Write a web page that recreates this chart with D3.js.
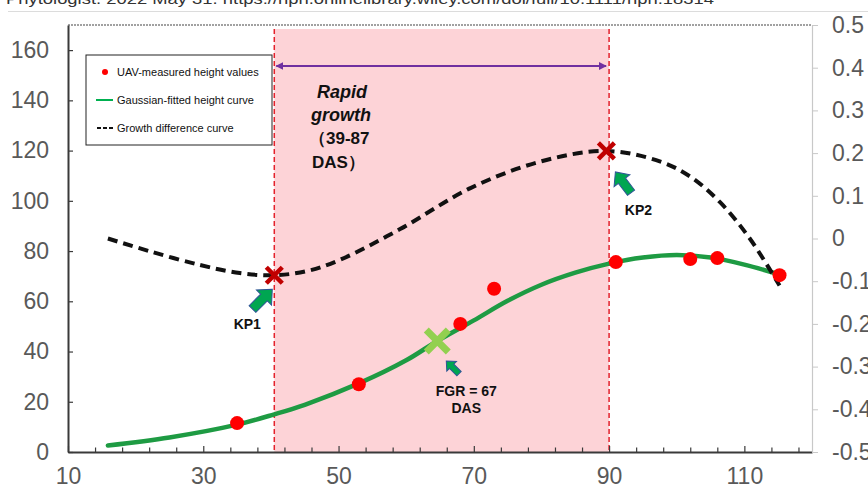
<!DOCTYPE html>
<html>
<head>
<meta charset="utf-8">
<script src="https://cdn.jsdelivr.net/npm/d3@7"></script>
<style>
  body { margin: 0; background: #fff; }
  svg { display: block; font-family: "Liberation Sans", Arial, sans-serif; }
</style>
</head>
<body>
<svg id="chart" width="868" height="497"></svg>
<script>
// measured plant height (cm) by day after sowing
const uavDays = [35, 53, 68, 73, 91, 102, 106, 115.2];
const uavHeight = [11.5, 27, 51, 65, 75.6, 76.8, 77.2, 70.4];

// gaussian fitted curve
const fitDays = [15.9, 25, 35, 40.5, 45, 53, 60, 64.6, 70, 75, 80, 85, 90, 95, 100, 105, 110, 115.2];
const fitHeight = [2.6, 5.8, 10.9, 15, 18.8, 27.3, 36.5, 44.2, 52.4, 60.2, 66.6, 71.4, 75, 77.4, 78.4, 77.4, 74.6, 70.6];

// growth difference curve (right axis)
const diffDays = [15.9, 22.1, 29.5, 35.4, 40.5, 45.4, 50.2, 59.1, 69.5, 79.8, 89.6, 97.6, 102, 106.4, 110.8, 115.2];
const diffValue = [0.0, -0.03, -0.062, -0.081, -0.086, -0.076, -0.05, 0.022, 0.118, 0.18, 0.205, 0.18, 0.145, 0.085, 0.0, -0.11];

const kp1 = {day: 40.5, value: -0.086};
const kp2 = {day: 89.6, value: 0.205};
const fgr = {day: 64.6, height: 44.2};
const bandDays = [40.5, 90];

const xTicks = d3.range(10, 121, 4);
const leftTicks = d3.range(0, 161, 20);
const rightTicks = d3.range(-5, 6).map(i => i / 10);

const svg = d3.select("#chart");

const x = d3.scaleLinear().domain([10, 120]).range([68, 812]);
const yL = d3.scaleLinear().domain([0, 170]).range([452, 25]);
const yR = d3.scaleLinear().domain([-0.5, 0.5]).range([452, 25]);

// cut-off source line at top
svg.append("text")
  .attr("x", 6).attr("y", 4)
  .attr("font-size", "15px").attr("fill", "#333")
  .attr("textLength", 708).attr("lengthAdjust", "spacingAndGlyphs")
  .text("Phytologist. 2022 May 31. https://nph.onlinelibrary.wiley.com/doi/full/10.1111/nph.18314");
svg.append("line")
  .attr("x1", 8).attr("x2", 868).attr("y1", 11.5).attr("y2", 11.5)
  .attr("stroke", "#dcdcdc").attr("stroke-width", 1);

// rapid growth band
svg.append("rect")
  .attr("x", x(bandDays[0])).attr("y", 29)
  .attr("width", x(bandDays[1]) - x(bandDays[0]))
  .attr("height", yL(0) - 29)
  .attr("fill", "#fdd3d7");

svg.selectAll("line.kp")
  .data(bandDays)
  .join("line")
  .attr("class", "kp")
  .attr("x1", d => x(d)).attr("x2", d => x(d))
  .attr("y1", 29).attr("y2", yL(0))
  .attr("stroke", "#e3212b").attr("stroke-width", 1.5)
  .attr("stroke-dasharray", "5,3");

// purple double arrow
const defs = svg.append("defs");
defs.append("marker")
  .attr("id", "ah").attr("viewBox", "0 0 10 10")
  .attr("refX", 9).attr("refY", 5)
  .attr("markerWidth", 4).attr("markerHeight", 4)
  .attr("orient", "auto-start-reverse")
  .append("path").attr("d", "M0,0L10,5L0,10z").attr("fill", "#7030a0");

svg.append("line")
  .attr("x1", x(bandDays[0]) + 2).attr("x2", x(bandDays[1]) - 3)
  .attr("y1", 66).attr("y2", 66)
  .attr("stroke", "#7030a0").attr("stroke-width", 2)
  .attr("marker-start", "url(#ah)").attr("marker-end", "url(#ah)");

// top border
svg.append("line")
  .attr("x1", x(10)).attr("x2", x(120)).attr("y1", yL(170)).attr("y2", yL(170))
  .attr("stroke", "#444").attr("stroke-width", 1.2).attr("stroke-dasharray", "2,1");

// axes
const gx = svg.append("g").attr("transform", `translate(0,${yL(0)})`)
  .call(d3.axisBottom(x).tickValues(xTicks)
    .tickFormat(d => (d - 10) % 20 === 0 ? d : "")
    .tickSize(-5).tickSizeOuter(0).tickPadding(16));
gx.select(".domain").attr("stroke", "#3a3a3a").attr("stroke-width", 2);
gx.selectAll(".tick line").attr("stroke", "#3a3a3a").attr("stroke-width", 1.2)
  .attr("y2", d => (d - 10) % 20 === 0 ? -6 : -4.5);
gx.selectAll("text").attr("font-size", "23px").attr("fill", "#595959")
  .attr("font-family", "Liberation Sans, Arial, sans-serif");

const gl = svg.append("g").attr("transform", `translate(${x(10)},0)`)
  .call(d3.axisLeft(yL).tickValues(leftTicks).tickSize(-5).tickSizeOuter(0).tickPadding(19));
gl.select(".domain").attr("stroke", "#3a3a3a").attr("stroke-width", 2);
gl.selectAll(".tick line").attr("stroke", "#3a3a3a").attr("stroke-width", 1.2);
gl.selectAll("text").attr("font-size", "23px").attr("fill", "#595959")
  .attr("font-family", "Liberation Sans, Arial, sans-serif");

const gr = svg.append("g").attr("transform", `translate(${x(120)},0)`)
  .call(d3.axisRight(yR).tickValues(rightTicks)
    .tickFormat(d => Math.abs(d) < 1e-9 ? "0" : d.toFixed(1))
    .tickSize(6).tickSizeOuter(0).tickPadding(14));
gr.select(".domain").attr("stroke", "#c8c8c8").attr("stroke-width", 1.2);
gr.selectAll(".tick line").attr("stroke", "#c8c8c8");
gr.selectAll("text").attr("font-size", "23px").attr("fill", "#595959")
  .attr("font-family", "Liberation Sans, Arial, sans-serif");

// curves
const fitLine = d3.line().x(d => x(d[0])).y(d => yL(d[1])).curve(d3.curveCatmullRom);
svg.append("path")
  .datum(d3.zip(fitDays, fitHeight))
  .attr("d", fitLine)
  .attr("fill", "none").attr("stroke", "#1e9b43").attr("stroke-width", 4.5)
  .attr("stroke-linecap", "round");

const diffLine = d3.line().x(d => x(d[0])).y(d => yR(d[1])).curve(d3.curveCatmullRom);
svg.append("path")
  .datum(d3.zip(diffDays, diffValue))
  .attr("d", diffLine)
  .attr("fill", "none").attr("stroke", "#111").attr("stroke-width", 4)
  .attr("stroke-dasharray", "10,6");

// measured points
svg.selectAll("circle.uav")
  .data(d3.zip(uavDays, uavHeight))
  .join("circle")
  .attr("class", "uav")
  .attr("cx", d => x(d[0])).attr("cy", d => yL(d[1]))
  .attr("r", 7).attr("fill", "#f00");

// markers
function cross(cx, cy, s, color, w) {
  svg.append("path")
    .attr("d", `M${cx - s},${cy - s}L${cx + s},${cy + s}M${cx - s},${cy + s}L${cx + s},${cy - s}`)
    .attr("stroke", color).attr("stroke-width", w).attr("fill", "none");
}
cross(x(fgr.day), yL(fgr.height), 11, "#92d050", 7);
cross(x(kp1.day), yR(kp1.value), 8, "#c00000", 4.5);
cross(x(kp2.day), yR(kp2.value), 8, "#c00000", 4.5);

// block arrows pointing at the markers
function blockArrow(tx, ty, angle, len) {
  const hw = len * 0.38, sw = len * 0.17, hl = len * 0.42;
  const pts = [[0, 0], [-hl, -hw], [-hl, -sw], [-len, -sw], [-len, sw], [-hl, sw], [-hl, hw]];
  svg.append("path")
    .attr("d", "M" + pts.map(p => p.join(",")).join("L") + "Z")
    .attr("transform", `translate(${tx},${ty}) rotate(${angle})`)
    .attr("fill", "#00a651").attr("stroke", "#2f5597").attr("stroke-width", 1);
}
blockArrow(x(kp1.day) - 2, yR(kp1.value) + 14, -45, 28);
blockArrow(x(kp2.day) + 9, yR(kp2.value) + 21, -127, 26);
blockArrow(x(fgr.day) + 9, yL(fgr.height) + 20, -135, 18);

// labels
function label(tx, ty, str, opts = {}) {
  return svg.append("text")
    .attr("x", tx).attr("y", ty)
    .attr("text-anchor", opts.anchor || "middle")
    .attr("font-size", (opts.size || 14) + "px")
    .attr("font-weight", "bold")
    .attr("font-style", opts.italic ? "italic" : "normal")
    .attr("fill", "#111")
    .text(str);
}
label(x(kp1.day) - 27, yR(kp1.value) + 54, "KP1");
label(x(kp2.day) + 32, yR(kp2.value) + 64, "KP2");
label(x(fgr.day) + 29, yL(fgr.height) + 55, "FGR = 67");
label(x(fgr.day) + 29, yL(fgr.height) + 72, "DAS");

label(317, 98, "Rapid", {anchor: "start", size: 18, italic: true});
label(311, 121, "growth", {anchor: "start", size: 18, italic: true});
label(309, 144, "（39-87", {anchor: "start", size: 17});
label(312, 168, "DAS）", {anchor: "start", size: 17});

// legend
const lg = svg.append("g");
lg.append("rect")
  .attr("x", 86).attr("y", 55).attr("width", 186).attr("height", 90)
  .attr("fill", "#fff").attr("stroke", "#222").attr("stroke-width", 1);
const legendItems = ["UAV-measured height values", "Gaussian-fitted height curve", "Growth difference curve"];
legendItems.forEach((name, i) => {
  const ly = 72 + i * 28;
  if (i === 0) lg.append("circle").attr("cx", 105).attr("cy", ly).attr("r", 3).attr("fill", "#f00");
  if (i === 1) lg.append("line").attr("x1", 96).attr("x2", 113).attr("y1", ly).attr("y2", ly)
    .attr("stroke", "#00b050").attr("stroke-width", 2);
  if (i === 2) lg.append("line").attr("x1", 97).attr("x2", 113).attr("y1", ly).attr("y2", ly)
    .attr("stroke", "#111").attr("stroke-width", 2).attr("stroke-dasharray", "4,2");
  lg.append("text").attr("x", 117).attr("y", ly + 4)
    .attr("font-size", "11px").attr("fill", "#111").text(name);
});
</script>
</body>
</html>
